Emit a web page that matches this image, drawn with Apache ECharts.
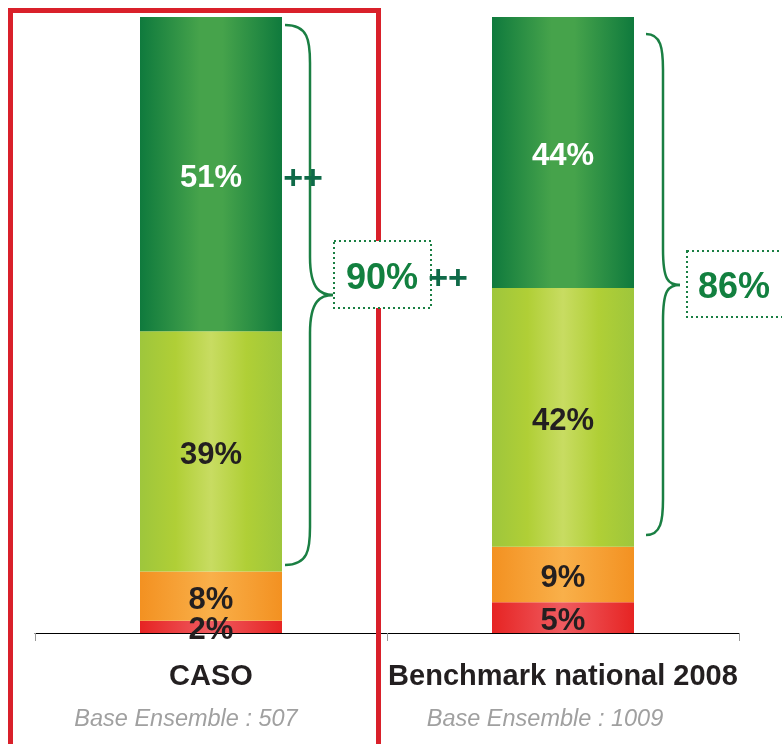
<!DOCTYPE html>
<html>
<head>
<meta charset="utf-8">
<script src="https://cdn.jsdelivr.net/npm/echarts@6/dist/echarts.min.js"></script>
<style>html,body{margin:0;padding:0;background:#fff;}#c{width:782px;height:744px;}</style>
</head>
<body>
<div id="c"></div>
<script>
var categories = ['CASO', 'Benchmark national 2008'];
var bases = ['Base Ensemble : 507', 'Base Ensemble : 1009'];
var redValues = [2, 5];
var orangeValues = [8, 9];
var lightGreenValues = [39, 42];
var darkGreenValues = [51, 44];
var totals = ['90%', '86%'];

var FONT = '"Liberation Sans", Arial, Helvetica, sans-serif';

function grad(stops) {
  return {
    type: 'linear', x: 0, y: 0, x2: 1, y2: 0,
    colorStops: stops.map(function (s) { return { offset: s[0], color: s[1] }; })
  };
}

var darkGreenGrad = grad([[0, '#0f7a3d'], [0.42, '#46a34b'], [0.58, '#46a34b'], [1, '#0f7a3d']]);
var lightGreenGrad = grad([[0, '#9ec63c'], [0.25, '#b0cf36'], [0.5, '#c8dc62'], [0.75, '#b0cf36'], [1, '#9ec63c']]);
var orangeGrad = grad([[0, '#f39121'], [0.5, '#f9b04a'], [1, '#f39121']]);
var redGrad = grad([[0, '#e62423'], [0.5, '#ef5b60'], [1, '#e62423']]);

function mkSeries(name, data, color, labelColor) {
  return {
    name: name,
    type: 'bar',
    stack: 'total',
    barWidth: 142,
    data: data,
    itemStyle: { color: color },
    label: {
      show: true,
      position: 'inside',
      offset: [0, 4],
      formatter: '{c}%',
      color: labelColor,
      fontFamily: FONT,
      fontWeight: 'bold',
      fontSize: 31
    },
    emphasis: { disabled: true },
    animation: false
  };
}

var braceColor = '#1a7f43';
function brace(x0, xv, xt, y0, yt, y1, r) {
  var st = { stroke: braceColor, lineWidth: 2.5, fill: 'none' };
  var els = [];
  els.push({ type: 'bezierCurve', z: 60, shape: { x1: x0, y1: y0, cpx1: xv - 2, cpy1: y0, cpx2: xv, cpy2: y0 + r * 0.4, x2: xv, y2: y0 + r }, style: st });
  els.push({ type: 'line', z: 60, shape: { x1: xv, y1: y0 + r, x2: xv, y2: yt - r }, style: st });
  els.push({ type: 'bezierCurve', z: 60, shape: { x1: xv, y1: yt - r, cpx1: xv, cpy1: yt - 5, cpx2: xt - 12, cpy2: yt, x2: xt, y2: yt }, style: st });
  els.push({ type: 'bezierCurve', z: 60, shape: { x1: xt, y1: yt, cpx1: xt - 12, cpy1: yt, cpx2: xv, cpy2: yt + 5, x2: xv, y2: yt + r }, style: st });
  els.push({ type: 'line', z: 60, shape: { x1: xv, y1: yt + r, x2: xv, y2: y1 - r }, style: st });
  els.push({ type: 'bezierCurve', z: 60, shape: { x1: xv, y1: y1 - r, cpx1: xv, cpy1: y1 - r * 0.4, cpx2: xv - 2, cpy2: y1, x2: x0, y2: y1 }, style: st });
  return els;
}

var chart = echarts.init(document.getElementById('c'), null, { renderer: 'canvas' });

var graphics = [
  { type: 'rect', z: 50, shape: { x: 10.5, y: 10.5, width: 368, height: 800 },
    style: { fill: 'none', stroke: '#d9202a', lineWidth: 5 } }
].concat(
  brace(285, 310, 333, 25, 295, 565, 38),
  brace(646, 663, 680, 34, 285, 535, 36),
  [
    { type: 'rect', z: 70, shape: { x: 334, y: 241, width: 97, height: 67 },
      style: { fill: '#fff', stroke: braceColor, lineWidth: 2, lineDash: [2, 3] } },
    { type: 'rect', z: 70, shape: { x: 687, y: 251, width: 110, height: 66 },
      style: { fill: '#fff', stroke: braceColor, lineWidth: 2, lineDash: [2, 3] } },
    { type: 'text', z: 80, x: 382, y: 279,
      style: { text: totals[0], fill: '#12803f', font: 'bold 36px ' + FONT, textAlign: 'center', textVerticalAlign: 'middle' } },
    { type: 'text', z: 80, x: 734, y: 288,
      style: { text: totals[1], fill: '#12803f', font: 'bold 36px ' + FONT, textAlign: 'center', textVerticalAlign: 'middle' } },
    { type: 'text', z: 80, x: 303, y: 180,
      style: { text: '++', fill: '#0f6a48', font: 'bold 34px ' + FONT, textAlign: 'center', textVerticalAlign: 'middle' } },
    { type: 'text', z: 80, x: 448, y: 280,
      style: { text: '++', fill: '#0f6a48', font: 'bold 34px ' + FONT, textAlign: 'center', textVerticalAlign: 'middle' } }
  ]
);

var option = {
  animation: false,
  grid: { left: 35, right: 43, top: 17, bottom: 111 },
  xAxis: {
    type: 'category',
    data: categories,
    axisLine: { show: true, lineStyle: { color: '#000', width: 1 } },
    axisTick: { show: true, length: 8, lineStyle: { color: '#999' } },
    axisLabel: {
      margin: 24,
      interval: 0,
      formatter: function (v, i) { return '{a|' + v + '}\n{b' + i + '|' + bases[i] + '}'; },
      rich: {
        a: { fontFamily: FONT, fontWeight: 'bold', fontSize: 29, color: '#231f20', lineHeight: 40 },
        b0: { fontFamily: FONT, fontStyle: 'italic', fontSize: 23.5, color: '#a0a0a0', lineHeight: 44, padding: [0, 50, 0, 0] },
        b1: { fontFamily: FONT, fontStyle: 'italic', fontSize: 23.5, color: '#a0a0a0', lineHeight: 44, padding: [0, 36, 0, 0] }
      }
    }
  },
  yAxis: { type: 'value', min: 0, max: 100, show: false },
  series: [
    mkSeries('red', redValues, redGrad, '#231f20'),
    mkSeries('orange', orangeValues, orangeGrad, '#231f20'),
    mkSeries('lightgreen', lightGreenValues, lightGreenGrad, '#231f20'),
    mkSeries('darkgreen', darkGreenValues, darkGreenGrad, '#ffffff')
  ],
  graphic: graphics
};
chart.setOption(option);
</script>
</body>
</html>
